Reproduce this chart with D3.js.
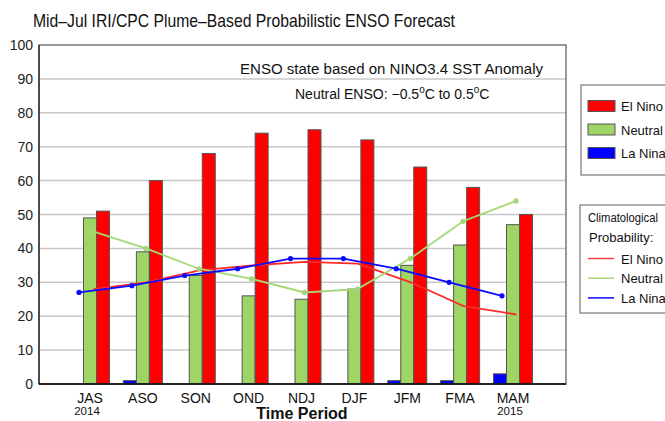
<!DOCTYPE html>
<html lang="en">
<head>
<meta charset="utf-8">
<title>ENSO Forecast</title>
<script src="https://d3js.org/d3.v7.min.js"></script>
<style>
  body { margin: 0; background: #fff; }
  svg { display: block; font-family: "Liberation Sans", Arial, Helvetica, sans-serif; }
</style>
</head>
<body>
<svg id="chart" width="665" height="421"></svg>
<script>
// data
const periods = ['JAS', 'ASO', 'SON', 'OND', 'NDJ', 'DJF', 'JFM', 'FMA', 'MAM'];
const elNino = [51, 60, 68, 74, 75, 72, 64, 58, 50];
const neutral = [49, 39, 32, 26, 25, 28, 35, 41, 47];
const laNina = [0, 1, 0, 0, 0, 0, 1, 1, 3];
// climatological probabilities
const climElNino = [28, 30, 33.5, 35, 36, 35.5, 30, 23, 20.5];
const climNeutral = [45, 40, 34, 31, 27, 28, 37, 48, 54];
const climLaNina = [27, 29, 32, 34, 37, 37, 34, 30, 26];
const yTicks = [0, 10, 20, 30, 40, 50, 60, 70, 80, 90, 100];

const colors = { el: '#ff0000', neu: '#9fd565', la: '#0000ff' };

const svg = d3.select('#chart');
const plot = { left: 39, right: 566, top: 45, bottom: 384 };
const barW = 13;

const x = d3.scalePoint().domain(periods).range([90, 513]);
const y = d3.scaleLinear().domain([0, 100]).range([plot.bottom, plot.top]);

svg.append('rect').attr('width', 665).attr('height', 421).attr('fill', '#fff');

// title
svg.append('text')
  .attr('x', 33).attr('y', 27)
  .attr('font-size', 19)
  .attr('textLength', 422).attr('lengthAdjust', 'spacingAndGlyphs')
  .attr('fill', '#111')
  .text('Mid\u2013Jul IRI/CPC Plume\u2013Based Probabilistic ENSO Forecast');

// gridlines
svg.append('g').selectAll('line')
  .data(yTicks.filter(d => d > 0 && d < 100))
  .join('line')
  .attr('x1', plot.left).attr('x2', plot.right)
  .attr('y1', d => y(d)).attr('y2', d => y(d))
  .attr('stroke', '#c8c8c8').attr('stroke-width', 1.5);

// y tick labels
svg.append('g').selectAll('text')
  .data(yTicks)
  .join('text')
  .attr('x', 33).attr('y', d => y(d))
  .attr('dy', '0.36em')
  .attr('text-anchor', 'end')
  .attr('font-size', 14)
  .attr('fill', '#222')
  .text(d => d);

// bars
const series = [
  { vals: laNina, color: colors.la, off: -1.5 * barW },
  { vals: neutral, color: colors.neu, off: -0.5 * barW },
  { vals: elNino, color: colors.el, off: 0.5 * barW }
];
series.forEach(s => {
  svg.append('g').selectAll('rect')
    .data(periods)
    .join('rect')
    .attr('x', (d) => x(d) + s.off)
    .attr('y', (d, i) => y(s.vals[i]))
    .attr('width', barW)
    .attr('height', (d, i) => y(0) - y(s.vals[i]))
    .attr('fill', s.color)
    .attr('stroke', (d, i) => s.vals[i] > 0 ? '#555' : 'none')
    .attr('stroke-width', 1);
});

// climatology lines
const lines = [
  { vals: climElNino, color: '#ff2a2a', off: 3.5, dots: false },
  { vals: climNeutral, color: '#a6d777', off: 3, dots: true },
  { vals: climLaNina, color: '#0a0aff', off: -11, dots: true }
];
lines.forEach(l => {
  const pts = periods.map((p, i) => [x(p) + l.off, y(l.vals[i])]);
  svg.append('path')
    .attr('d', d3.line()(pts))
    .attr('fill', 'none')
    .attr('stroke', l.color)
    .attr('stroke-width', 1.8);
  if (l.dots) {
    svg.append('g').selectAll('circle')
      .data(pts)
      .join('circle')
      .attr('cx', d => d[0]).attr('cy', d => d[1])
      .attr('r', 2.6)
      .attr('fill', l.color);
  }
});

// frame
svg.append('rect')
  .attr('x', plot.left).attr('y', plot.top)
  .attr('width', plot.right - plot.left).attr('height', plot.bottom - plot.top)
  .attr('fill', 'none').attr('stroke', '#777').attr('stroke-width', 1.5);
svg.append('line')
  .attr('x1', plot.left).attr('x2', plot.left)
  .attr('y1', plot.top).attr('y2', plot.bottom)
  .attr('stroke', '#333').attr('stroke-width', 1.5);
svg.append('line')
  .attr('x1', plot.left).attr('x2', plot.right)
  .attr('y1', plot.bottom).attr('y2', plot.bottom)
  .attr('stroke', '#000').attr('stroke-width', 1.5);

// notes inside plot
svg.append('text')
  .attr('x', 240).attr('y', 74)
  .attr('font-size', 14)
  .attr('textLength', 303).attr('lengthAdjust', 'spacingAndGlyphs')
  .attr('fill', '#111')
  .text('ENSO state based on NINO3.4 SST Anomaly');
const note2 = svg.append('text')
  .attr('x', 295).attr('y', 99)
  .attr('font-size', 14)
  .attr('fill', '#111');
note2.append('tspan').text('Neutral ENSO: \u22120.5');
note2.append('tspan').attr('dy', -6).attr('font-size', 10).text('o');
note2.append('tspan').attr('dy', 6).text('C to 0.5');
note2.append('tspan').attr('dy', -6).attr('font-size', 10).text('o');
note2.append('tspan').attr('dy', 6).text('C');

// x labels
svg.append('g').selectAll('text')
  .data(periods)
  .join('text')
  .attr('x', d => x(d)).attr('y', 403)
  .attr('text-anchor', 'middle')
  .attr('font-size', 14)
  .attr('fill', '#111')
  .text(d => d);
const yearLabels = [['JAS', '2014'], ['MAM', '2015']];
svg.append('g').selectAll('text')
  .data(yearLabels)
  .join('text')
  .attr('x', d => x(d[0]) - 3).attr('y', 415)
  .attr('text-anchor', 'middle')
  .attr('font-size', 11.5)
  .attr('fill', '#111')
  .text(d => d[1]);
svg.append('text')
  .attr('x', 302).attr('y', 419)
  .attr('text-anchor', 'middle')
  .attr('font-size', 16).attr('font-weight', 'bold')
  .attr('fill', '#111')
  .text('Time Period');

// legend: forecast bars
const legendItems = [['El Nino', colors.el], ['Neutral', colors.neu], ['La Nina', colors.la]];
const lg1 = svg.append('g');
lg1.append('rect')
  .attr('x', 581).attr('y', 85).attr('width', 120).attr('height', 90)
  .attr('fill', '#fff').attr('stroke', '#777').attr('stroke-width', 1.2);
legendItems.forEach((it, i) => {
  const cy = 106 + i * 23.5;
  lg1.append('rect')
    .attr('x', 588).attr('y', cy - 5.5).attr('width', 27).attr('height', 11)
    .attr('fill', it[1]).attr('stroke', '#555').attr('stroke-width', 1);
  lg1.append('text')
    .attr('x', 621).attr('y', cy + 5)
    .attr('font-size', 13).attr('fill', '#111')
    .text(it[0]);
});

// legend: climatology lines
const lg2 = svg.append('g');
lg2.append('rect')
  .attr('x', 580).attr('y', 205).attr('width', 120).attr('height', 108)
  .attr('fill', '#fff').attr('stroke', '#777').attr('stroke-width', 1.2);
lg2.append('text').attr('x', 588).attr('y', 222)
  .attr('font-size', 12.5).attr('fill', '#111')
  .attr('textLength', 70).attr('lengthAdjust', 'spacingAndGlyphs')
  .text('Climatological');
lg2.append('text').attr('x', 589).attr('y', 242)
  .attr('font-size', 13).attr('fill', '#111').text('Probability:');
const lineCols = ['#ff4040', '#a6d777', '#0a0aff'];
legendItems.forEach((it, i) => {
  const cy = 258.5 + i * 19.7;
  lg2.append('line')
    .attr('x1', 588).attr('x2', 614).attr('y1', cy).attr('y2', cy)
    .attr('stroke', lineCols[i]).attr('stroke-width', 1.5);
  lg2.append('text')
    .attr('x', 621).attr('y', cy + 5)
    .attr('font-size', 13).attr('fill', '#111')
    .text(it[0]);
});
</script>
</body>
</html>
